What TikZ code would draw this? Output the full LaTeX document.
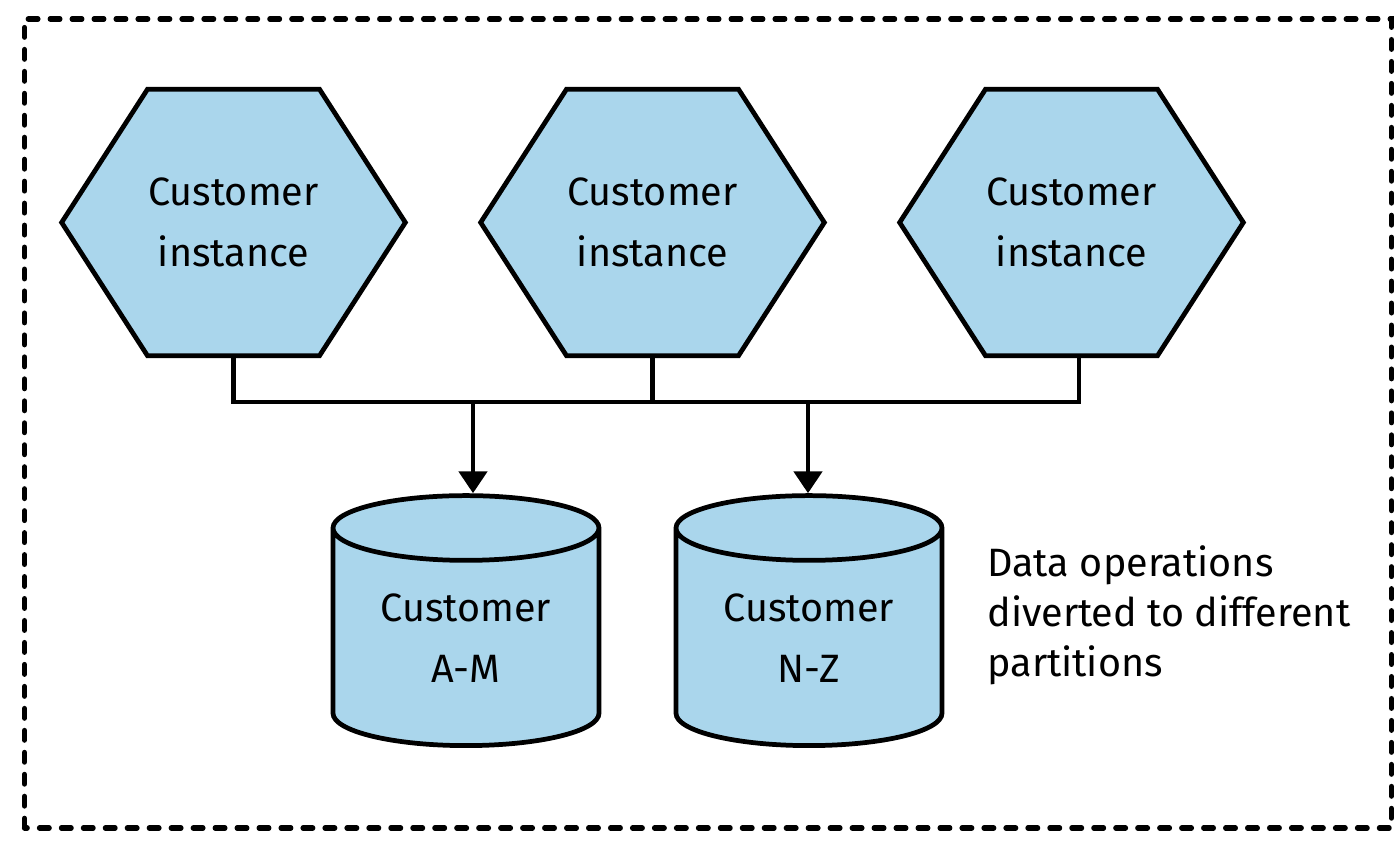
\documentclass[tikz,border=0pt]{standalone}
\usepackage{fontspec}
\setmainfont{Fira Sans}
\usepackage{tikz}
\usetikzlibrary{shapes,arrows.meta,positioning,calc}
\usepackage{xcolor}
\definecolor{serviceblue}{RGB}{170,214,236}
\pgfdeclarelayer{background}
\pgfsetlayers{background,main}

\begin{document}
\begin{tikzpicture}[
    thickline/.style={line width=2.7pt},
    >={Triangle[width=16pt,length=12.5pt]},
    hexnode/.style={minimum width=6.86cm, minimum height=5.32cm, inner sep=0pt, align=center, font=\fontsize{22.5}{35}\selectfont},
    dbnode/.style={cylinder, shape border rotate=90, aspect=0.38, draw, thickline, fill=serviceblue, minimum width=5.32cm, minimum height=5cm, inner sep=0pt, align=center, font=\fontsize{22.5}{35}\selectfont}
]
    \useasboundingbox (0,0) rectangle (28,16.9);
    \draw[line width=3pt, dash pattern=on 5.5pt off 7pt, line cap=round] (0.49,0.34) rectangle (27.83,16.52);

    % customer instances
    \node[hexnode] (ci1) at (4.67,12.45) {Customer\\instance};
    \node[hexnode] (ci2) at (13.05,12.45) {Customer\\instance};
    \node[hexnode] (ci3) at (21.43,12.45) {Customer\\instance};
    \begin{pgfonlayer}{background}
        \foreach \n in {ci1,ci2,ci3}
            \draw[thickline, fill=serviceblue] (\n.west) -- ($(\n.north west)!0.25!(\n.north east)$) -- ($(\n.north west)!0.75!(\n.north east)$) -- (\n.east) -- ($(\n.south west)!0.75!(\n.south east)$) -- ($(\n.south west)!0.25!(\n.south east)$) -- cycle;
    \end{pgfonlayer}

    % partitions
    \node[dbnode] (db1) at (9.32,4.14) {Customer\\A-M};
    \node[dbnode] (db2) at (16.18,4.14) {Customer\\N-Z};

    \node[anchor=north west, align=left, inner sep=0pt, font=\fontsize{22.5}{28.5}\selectfont] (note) at (19.74,6.0) {Data operations\\diverted to different\\partitions};

    % bus
    \coordinate (bus) at (0,8.86);
    \coordinate (split1) at (9.46,8.86);
    \coordinate (split2) at (16.16,8.86);
    \draw[thickline] (ci1.south) -- (ci1.south |- bus) -- ($(ci3.south |- bus)+(0.15,0)$) -- ($(ci3.south)+(0.15,0)$);
    \draw[thickline] (ci2.south) -- (ci2.south |- bus);
    \draw[thickline, ->] (split1) -- (split1 |- db1.north);
    \draw[thickline, ->] (split2) -- (split2 |- db2.north);
\end{tikzpicture}
\end{document}
